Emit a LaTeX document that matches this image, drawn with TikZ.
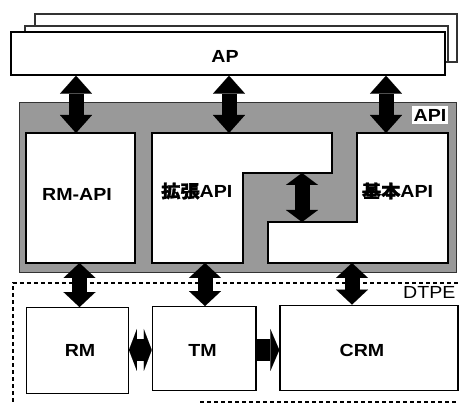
\documentclass[tikz,border=0pt]{standalone}
\usepackage{fontspec}
\setmainfont{Liberation Sans}[FakeStretch=1.12]
\newfontfamily\cjk{Noto Sans CJK JP}[FakeStretch=1.1,FakeBold=1.6]
\usetikzlibrary{arrows.meta}
\begin{document}
\begin{tikzpicture}[x=1pt,y=-1pt,
  box/.style={draw=black,line width=1.4pt,fill=white,inner sep=0pt},
  page/.style={draw=black!80,line width=1.1pt,fill=white},
  region/.style={draw=black!80,line width=0.7pt,fill=black!40},
  lbl/.style={inner sep=0pt,font=\fontsize{17.5}{20}\selectfont\bfseries},
  bigarrow/.style={line width=15pt,line cap=butt,
    {Triangle[width=32pt,length=#1,line width=0.01pt]}-{Triangle[width=32pt,length=#1,line width=0.01pt]}},
  bigarrow/.default=18pt,
  harrow/.style={line width=22pt,line cap=butt,
    {Triangle[width=42pt,length=8pt,line width=0.01pt]}-{Triangle[width=42pt,length=8pt,line width=0.01pt]}},
  rarrow/.style={line width=22pt,line cap=butt,
    -{Triangle[width=42pt,length=9pt,line width=0.01pt]}},
  dtpe/.style={draw=black,line width=1.8pt,dash pattern=on 4pt off 3pt}
]
\useasboundingbox (0,0) rectangle (459,403);

% stacked pages behind AP
\draw[page] (35,14) rectangle (457,62);
\draw[page] (25,26) rectangle (448,62);
% AP box
\node[box,minimum width=434pt,minimum height=43pt] (ap) at (228,53.5) {};
\node[lbl] (aptext) at (225,56) {AP};

% API region
\node[region,minimum width=437pt,minimum height=170pt] (api) at (237.5,187) {};
\node[lbl,fill=white,minimum width=36pt,minimum height=18pt] (apilabel) at (430,115) {API};

% RM-API
\node[box,minimum width=109pt,minimum height=130pt] (rmapi) at (80.5,198) {};
\node[lbl] (rmapitext) at (77,194.5) {RM-API};

% 拡張API polygon
\coordinate (e1) at (152,133);
\coordinate (e2) at (332,133);
\coordinate (e3) at (332,173);
\coordinate (e4) at (243,173);
\coordinate (e5) at (243,263);
\coordinate (e6) at (152,263);
\draw[box] (e1) -- (e2) -- (e3) -- (e4) -- (e5) -- (e6) -- cycle;
\node[lbl,anchor=west] (exttext) at (161,191) {{\cjk 拡張}API};

% 基本API polygon
\coordinate (k1) at (357,133);
\coordinate (k2) at (448,133);
\coordinate (k3) at (448,263);
\coordinate (k4) at (268,263);
\coordinate (k5) at (268,222);
\coordinate (k6) at (357,222);
\draw[box] (k1) -- (k2) -- (k3) -- (k4) -- (k5) -- (k6) -- cycle;
\node[lbl] (basictext) at (397.5,191) {{\cjk 基本}API};

% DTPE dashed region
\draw[dtpe] (13,402) -- (13,283) -- (470,283);
\draw[dtpe] (200,402) -- (470,402);
\node[inner sep=0pt,font=\fontsize{17.5}{20}\selectfont,anchor=west] (dtpetext) at (403,292) {DTPE};

% lower boxes
\node[box,minimum width=101.5pt,minimum height=85.5pt] (rm) at (77.5,350.5) {};
\node[lbl] (rmtext) at (80,350) {RM};
\node[box,minimum width=103.5pt,minimum height=83.5pt] (tm) at (204.2,348.5) {};
\node[lbl] (tmtext) at (202.5,350) {TM};
\node[box,minimum width=178pt,minimum height=85.5pt] (crm) at (369,348) {};
\node[lbl] (crmtext) at (362,350) {CRM};

% AP <-> API arrows
\coordinate (t1) at (76,133);
\coordinate (t2) at (229,133);
\coordinate (t3) at (386,133);
\draw[bigarrow] (ap.south -| t1) -- (t1);
\draw[bigarrow] (ap.south -| t2) -- (t2);
\draw[bigarrow] (ap.south -| t3) -- (t3);

% inner arrow between 拡張API and 基本API
\coordinate (m1) at (302,173);
\coordinate (m2) at (302,222);
\draw[bigarrow=12pt] (m1) -- (m2);

% API <-> lower boxes
\coordinate (b1) at (79.5,263);
\coordinate (b2) at (205,263);
\coordinate (b3) at (352,263);
\draw[bigarrow=15pt] (b1) -- (rm.north -| b1);
\draw[bigarrow=15pt] (b2) -- (tm.north -| b2);
\draw[bigarrow=15pt] (b3) -- (crm.north -| b3);

% horizontal arrows
\draw[harrow] (rm.east |- 0,350) -- (tm.west |- 0,350);
\draw[rarrow] (tm.east |- 0,350) -- (crm.west |- 0,350);
\end{tikzpicture}
\end{document}
